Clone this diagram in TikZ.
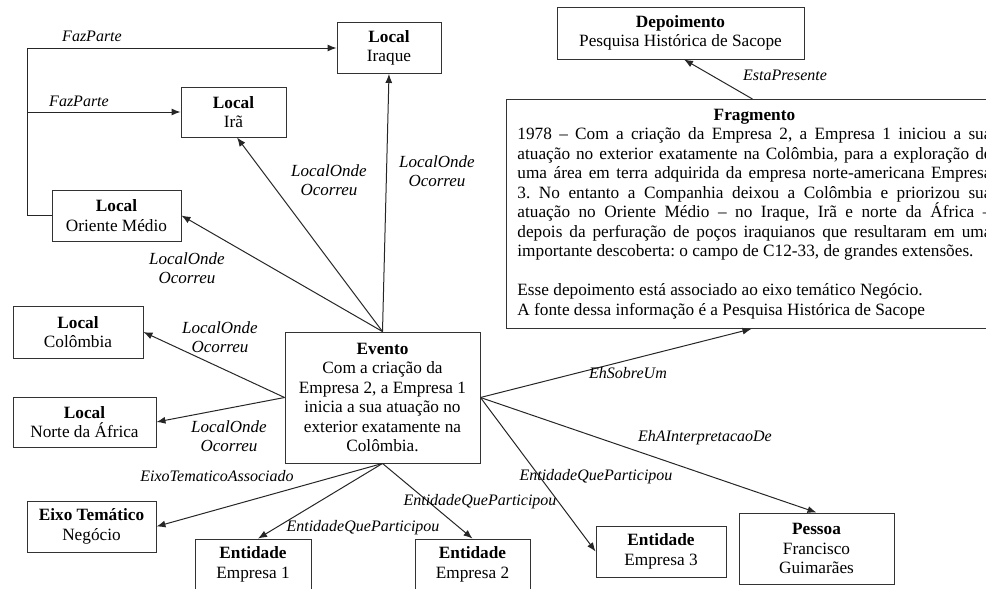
\documentclass[tikz,border=0pt]{standalone}
\usepackage{fontspec}
\setmainfont{Liberation Serif}
\usetikzlibrary{arrows.meta}
\frenchspacing
\begin{document}
\begin{tikzpicture}[x=1pt,y=-1pt,
  box/.style={draw=black!80, line width=0.9pt, align=center, inner sep=0pt,
              font=\fontsize{17.25}{19.5}\selectfont},
  lbl/.style={font=\fontsize{16}{19}\selectfont\itshape, align=center, inner sep=0pt},
  lblb/.style={font=\fontsize{17}{19}\selectfont\itshape, align=center, inner sep=0pt},
  conn/.style={draw=black!85, line width=1pt},
  arr/.style={conn, -{Latex[length=9pt,width=7pt]}}]
\useasboundingbox (0,0) rectangle (986,589);

% boxes
\node[box, minimum width=104, minimum height=51] (iraque) at (389,48) {\textbf{Local}\\Iraque};
\node[box, minimum width=105, minimum height=50] (ira) at (233.5,112) {\textbf{Local}\\Irã};
\node[box, minimum width=129, minimum height=51] (oriente) at (116.5,215.5) {\textbf{Local}\\Oriente Médio};
\node[box, minimum width=130, minimum height=52] (colombia) at (78,332) {\textbf{Local}\\Colômbia};
\node[box, minimum width=143, minimum height=50] (norte) at (84.5,422) {\textbf{Local}\\Norte da África};
\node[box, minimum width=195, minimum height=131] (evento) at (382.5,397.5)
  {\textbf{Evento}\\Com a criação da\\Empresa 2, a Empresa 1\\inicia a sua atuação no\\exterior exatamente na\\Colômbia.};
\node[box, minimum width=129, minimum height=51] (eixo) at (91.5,526.5) {\textbf{Eixo Temático}\\Negócio};
\node[box, minimum width=116, minimum height=51] (emp1) at (253,564.5) {\textbf{Entidade}\\Empresa 1};
\node[box, minimum width=115, minimum height=51] (emp2) at (472.5,564.5) {\textbf{Entidade}\\Empresa 2};
\node[box, minimum width=130, minimum height=51] (emp3) at (661,551.5) {\textbf{Entidade}\\Empresa 3};
\node[box, minimum width=155, minimum height=71] (pessoa) at (816.5,548.5) {\textbf{Pessoa}\\Francisco\\Guimarães};
\node[box, minimum width=247, minimum height=52] (depo) at (680.5,33) {\textbf{Depoimento}\\Pesquisa Histórica de Sacope};
\node[box, text width=474, inner xsep=11pt, inner ysep=0pt, minimum height=229,
      anchor=north west, align=justify] (frag) at (506,99)
  {{\centering\textbf{Fragmento}\par}
   1978 – Com a criação da Empresa 2, a Empresa 1 iniciou a sua\linebreak
   atuação no exterior exatamente na Colômbia, para a exploração de\linebreak
   uma área em terra adquirida da empresa norte-americana Empresa\linebreak
   3. No entanto a Companhia deixou a Colômbia e priorizou sua\linebreak
   atuação no Oriente Médio – no Iraque, Irã e norte da África –\linebreak
   depois da perfuração de poços iraquianos que resultaram em uma\linebreak
   importante descoberta: o campo de C12-33, de grandes extensões.\par
   \vspace{19.7pt}
   Esse depoimento está associado ao eixo temático Negócio.\\
   A fonte dessa informação é a Pesquisa Histórica de Sacope\par};

% FazParte connectors
\coordinate (fp) at (27,215.5);
\draw[conn] (oriente.west) -- (fp);
\draw[arr] (fp) |- (iraque.west);
\draw[arr] (fp) |- (ira.west);

% connectors from Evento
\draw[arr] (evento.north) -- (iraque.south);
\draw[arr] (evento.north) -- ([xshift=3.5pt]ira.south);
\draw[arr] (evento.north) -- (oriente.east);
\draw[arr] (evento.west) -- (colombia.east);
\draw[arr] (evento.west) -- (norte.east);
\draw[arr] (evento.south) -- (eixo.east);
\draw[arr] (evento.south) -- ([xshift=5pt]emp1.north);
\draw[arr] (evento.south) -- (emp2.north);
\draw[arr] (evento.east) -- (emp3.west);
\draw[arr] (evento.east) -- (pessoa.north);
\draw[arr] (evento.east) -- ([xshift=-3pt]frag.south);
\draw[arr] ([xshift=-2pt]frag.north) -- ([xshift=3.5pt]depo.south);

% labels
\node[lbl] (lfp1) at (92,36) {FazParte};
\node[lbl] (lfp2) at (79,101) {FazParte};
\node[lblb] (lira) at (329,180.5) {LocalOnde\\Ocorreu};
\node[lblb] (liraque) at (437,171.5) {LocalOnde\\Ocorreu};
\node[lblb] (loriente) at (187,268.5) {LocalOnde\\Ocorreu};
\node[lblb] (lcolombia) at (220,337.5) {LocalOnde\\Ocorreu};
\node[lblb] (lnorte) at (229,436.5) {LocalOnde\\Ocorreu};
\node[lbl] (leixo) at (217,476) {EixoTematicoAssociado};
\node[lbl] (lemp1) at (363,528) {EntidadeQueParticipou};
\node[lbl] (lemp2) at (480,502) {EntidadeQueParticipou};
\node[lbl] (lemp3) at (596,477) {EntidadeQueParticipou};
\node[lbl] (lsobre) at (628,373) {EhSobreUm};
\node[lbl] (linterp) at (705,438) {EhAInterpretacaoDe};
\node[lbl] (lesta) at (785,75) {EstaPresente};
\end{tikzpicture}
\end{document}
